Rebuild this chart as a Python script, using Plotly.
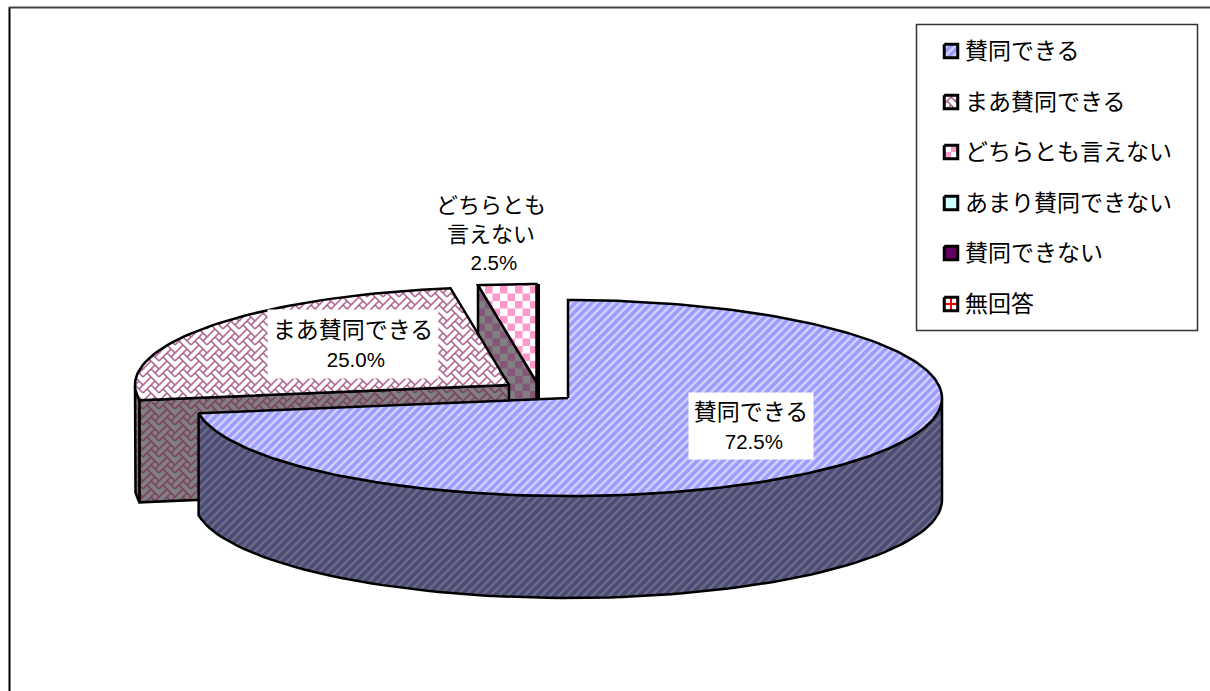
import math
import plotly.graph_objects as go

# Survey answers and their shares (percent)
categories = ["賛同できる", "まあ賛同できる", "どちらとも言えない", "あまり賛同できない", "賛同できない", "無回答"]
shares = [72.5, 25.0, 2.5, 0.0, 0.0, 0.0]

WIDTH, HEIGHT = 1210, 691
FONT = "Liberation Sans, Noto Sans CJK JP, sans-serif"
RX, RY, DEPTH = 374.0, 98.0, 102.0
# Pie apex of each exploded slice on the drawing surface
APEX = [(568.0, 398.0), (509.0, 385.0), (536.5, 382.0)]
BLACK = "#000000"

# 8x8 weave hatch, one hex byte per row
WEAVE_ROWS = [0x11, 0x2A, 0x44, 0xA2, 0x11, 0x28, 0x44, 0x8A]

fig = go.Figure()


def point(apex, theta, drop=0.0):
    t = math.radians(theta)
    return (apex[0] + RX * math.sin(t), apex[1] - RY * math.cos(t) + drop)


def arc(apex, a, b, drop=0.0, n=90):
    return [point(apex, a + (b - a) * i / n, drop) for i in range(n + 1)]


def add_poly(pts, bg=None, pattern=None, line=True, lw=2.5):
    xs = [p[0] for p in pts] + [pts[0][0]]
    ys = [p[1] for p in pts] + [pts[0][1]]
    kw = {}
    if bg is not None:
        kw["fill"] = "toself"
        kw["fillcolor"] = bg
    if pattern is not None:
        kw["fillpattern"] = pattern
    fig.add_trace(go.Scatter(
        x=xs, y=ys, mode="lines" if line else "none",
        line=dict(color=BLACK, width=lw), hoverinfo="skip", **kw))


def orientation(clip):
    area = sum(clip[i][0] * clip[(i + 1) % len(clip)][1] - clip[(i + 1) % len(clip)][0] * clip[i][1]
               for i in range(len(clip)))
    return 1.0 if area > 0 else -1.0


def clip_convex(poly, clip):
    # Sutherland-Hodgman against a convex polygon
    sign = orientation(clip)
    out = poly
    for i in range(len(clip)):
        ax, ay = clip[i]
        bx, by = clip[(i + 1) % len(clip)]
        if not out:
            return []
        src, out = out, []
        side = [sign * ((bx - ax) * (p[1] - ay) - (by - ay) * (p[0] - ax)) for p in src]
        for j, p in enumerate(src):
            q = src[(j + 1) % len(src)]
            sp, sq = side[j], side[(j + 1) % len(src)]
            if sp >= 0:
                out.append(p)
            if (sp >= 0) != (sq >= 0):
                t = sp / (sp - sq)
                out.append((p[0] + (q[0] - p[0]) * t, p[1] + (q[1] - p[1]) * t))
    return out


def clip_segment(p, q, clip):
    # Parametric clip of one segment against a convex polygon
    sign = orientation(clip)
    t0, t1 = 0.0, 1.0
    dx, dy = q[0] - p[0], q[1] - p[1]
    for i in range(len(clip)):
        ax, ay = clip[i]
        bx, by = clip[(i + 1) % len(clip)]
        sp = sign * ((bx - ax) * (p[1] - ay) - (by - ay) * (p[0] - ax))
        d = sign * ((bx - ax) * dy - (by - ay) * dx)
        if abs(d) < 1e-12:
            if sp < 0:
                return None
            continue
        t = -sp / d
        if d > 0:
            t0 = max(t0, t)
        else:
            t1 = min(t1, t)
        if t0 >= t1:
            return None
    return (p[0] + dx * t0, p[1] + dy * t0), (p[0] + dx * t1, p[1] + dy * t1)


def add_cells(cells, clip, color):
    xs, ys = [], []
    for x0, y0, w, h in cells:
        piece = clip_convex([(x0, y0), (x0 + w, y0), (x0 + w, y0 + h), (x0, y0 + h)], clip)
        if piece:
            xs += [p[0] for p in piece] + [piece[0][0], None]
            ys += [p[1] for p in piece] + [piece[0][1], None]
    fig.add_trace(go.Scatter(x=xs, y=ys, mode="none", fill="toself", fillcolor=color, hoverinfo="skip"))


def bit_set(r, c):
    return WEAVE_ROWS[r % 8] >> (7 - c % 8) & 1


def add_weave(clip, color, px=2.0, width=1.7):
    # Joins diagonal neighbours of the hatch bitmap into continuous strokes
    x_lo, x_hi = min(p[0] for p in clip), max(p[0] for p in clip)
    y_lo, y_hi = min(p[1] for p in clip), max(p[1] for p in clip)
    xs, ys = [], []
    for r in range(int(y_lo // px) - 1, int(y_hi // px) + 2):
        for c in range(int(x_lo // px) - 1, int(x_hi // px) + 2):
            if not bit_set(r, c):
                continue
            start = ((c + 0.5) * px, (r + 0.5) * px)
            for dr in (1, -1):
                if bit_set(r + dr, c + 1):
                    end = ((c + 1.5) * px, (r + dr + 0.5) * px)
                    seg = clip_segment(start, end, clip)
                    if seg:
                        xs += [seg[0][0], seg[1][0], None]
                        ys += [seg[0][1], seg[1][1], None]
    fig.add_trace(go.Scatter(x=xs, y=ys, mode="lines", line=dict(color=color, width=width), hoverinfo="skip"))


def check_cells(clip, size, ox, oy):
    x_lo, x_hi = min(p[0] for p in clip), max(p[0] for p in clip)
    y_lo, y_hi = min(p[1] for p in clip), max(p[1] for p in clip)
    cells = []
    for r in range(math.floor((y_lo - oy) / size), math.ceil((y_hi - oy) / size) + 1):
        for c in range(math.floor((x_lo - ox) / size), math.ceil((x_hi - ox) / size) + 1):
            if (r + c) % 2 == 0:
                cells.append((ox + c * size, oy + r * size, size, size))
    return cells


def checkered(pts, bg, fg, size, ox, oy):
    add_poly(pts, bg=bg, line=False)
    add_cells(check_cells(pts, size, ox, oy), pts, fg)
    add_poly(pts)


def woven(pts, bg, fg):
    add_poly(pts, bg=bg, line=False)
    add_weave(pts, fg)
    add_poly(pts)


# Slice angles, clockwise from twelve o'clock
bounds = [0.0]
for share in shares:
    bounds.append(bounds[-1] + share * 3.6)
start1, end1 = bounds[0], bounds[1]
start2, end2 = bounds[1], bounds[2]
start3, end3 = bounds[2], bounds[3]

STRIPE_TOP = dict(shape="/", size=6, solidity=0.38, bgcolor="#9C9CFF", fgcolor="#D6D6FF", fillmode="replace")
STRIPE_WALL = dict(shape="/", size=6, solidity=0.38, bgcolor="#4A4A75", fgcolor="#6E6E8A", fillmode="replace")
WEAVE_TOP = "#B0628E"
WEAVE_WALL = "#7D3E62"
PINK = "#FF99CC"

# Third slice, furthest back
a3 = APEX[2]
edge3 = point(a3, start3)
wall3 = [edge3, a3, (a3[0], a3[1] + DEPTH), (edge3[0], edge3[1] + DEPTH)]
checkered(wall3, "#808080", "#85557A", 7.5, 485.0, 286.0)
fig.add_trace(go.Scatter(x=[a3[0] + 1.5, a3[0] + 1.5], y=[point(a3, end3)[1], a3[1] + DEPTH],
                         mode="lines", line=dict(color=BLACK, width=4), hoverinfo="skip"))
top3 = [a3] + arc(a3, start3, end3, n=12)
checkered(top3, "#FFFFFF", PINK, 7.5, 485.0, 286.0)

# Second slice
a2 = APEX[1]
side2 = arc(a2, start2, 270.0, n=12) + arc(a2, start2, 270.0, DEPTH, n=12)[::-1]
add_poly(side2, bg="#808080", pattern=dict(shape="x", size=6, solidity=0.3, bgcolor="#808080",
                                           fgcolor=WEAVE_WALL, fillmode="replace"))
edge2 = point(a2, start2)
wall2 = [edge2, a2, (a2[0], a2[1] + DEPTH), (edge2[0], edge2[1] + DEPTH)]
woven(wall2, "#808080", WEAVE_WALL)
top2 = [a2] + arc(a2, start2, end2, n=60)
woven(top2, "#FFFFFF", WEAVE_TOP)

# First slice, in front of the others
a1 = APEX[0]
wall1 = arc(a1, 90.0, end1) + arc(a1, 90.0, end1, DEPTH)[::-1]
add_poly(wall1, bg="#4A4A75", pattern=STRIPE_WALL)
top1 = [a1] + arc(a1, start1, end1, n=240)
add_poly(top1, bg="#9C9CFF", pattern=STRIPE_TOP)

# Legend swatches
SW_X, SW_SIZE = 951.0, 13.5
row_y = [51.0, 102.0, 152.0, 203.0, 253.0, 304.0]
SW_LW = 3.0


def swatch_box(cy):
    h = SW_SIZE / 2
    return [(SW_X - h, cy - h), (SW_X + h, cy - h), (SW_X + h, cy + h), (SW_X - h, cy + h)]


add_poly(swatch_box(row_y[0]), bg="#9C9CFF", pattern=STRIPE_TOP, lw=SW_LW)
box = swatch_box(row_y[1])
add_poly(box, bg="#FFFFFF", line=False)
add_weave(box, WEAVE_TOP)
add_poly(box, lw=SW_LW)
box = swatch_box(row_y[2])
add_poly(box, bg="#FFFFFF", line=False)
add_cells(check_cells(box, 7.0, SW_X - 7.0, row_y[2]), box, PINK)
add_poly(box, lw=SW_LW)
add_poly(swatch_box(row_y[3]), bg="#CCFFFF", lw=SW_LW)
add_poly(swatch_box(row_y[4]), bg="#660066", lw=SW_LW)
box = swatch_box(row_y[5])
add_poly(box, bg="#FFFFFF", line=False)
fig.add_trace(go.Scatter(
    x=[SW_X - 7, SW_X + 7, None, SW_X, SW_X], y=[row_y[5], row_y[5], None, row_y[5] - 7, row_y[5] + 7],
    mode="lines", line=dict(color="#FF0000", width=2), hoverinfo="skip"))
add_poly(box, lw=SW_LW)

# Legend captions
annotations = [dict(x=963, y=cy, text=name, xanchor="left", yanchor="middle", showarrow=False,
                    font=dict(family=FONT, size=23, color=BLACK))
               for name, cy in zip(categories, row_y)]


def value_label(head, share):
    return f'{head}<br><span style="font-size:20.5px">&nbsp;{share:.1f}%</span>'


# Slice labels with their value
annotations += [
    dict(x=751, y=426, text=value_label(categories[0], shares[0]), width=122, height=64,
         bgcolor="#FFFFFF", showarrow=False, align="center", valign="middle",
         font=dict(family=FONT, size=23, color=BLACK)),
    dict(x=353, y=344, text=value_label(categories[1], shares[1]), width=168, height=66,
         bgcolor="#FFFFFF", showarrow=False, align="center", valign="middle",
         font=dict(family=FONT, size=23, color=BLACK)),
    dict(x=491, y=233, text=value_label("どちらとも<br>言えない", shares[2]), showarrow=False,
         align="center", valign="middle", font=dict(family=FONT, size=22, color=BLACK)),
]

fig.update_layout(
    width=WIDTH, height=HEIGHT, autosize=False,
    margin=dict(l=0, r=0, t=0, b=0, pad=0),
    paper_bgcolor="#FFFFFF", plot_bgcolor="#FFFFFF",
    showlegend=False,
    xaxis=dict(range=[0, WIDTH], visible=False, fixedrange=True),
    yaxis=dict(range=[HEIGHT, 0], visible=False, fixedrange=True),
    annotations=annotations,
    shapes=[
        dict(type="rect", x0=916.5, y0=24.5, x1=1197.5, y1=330.5, line=dict(color="#333333", width=1.5), layer="below"),
        dict(type="line", x0=9.5, y0=7, x1=9.5, y1=HEIGHT, line=dict(color=BLACK, width=2)),
        dict(type="line", x0=9, y0=7.5, x1=WIDTH, y1=7.5, line=dict(color="#404040", width=2)),
    ],
)

fig.write_html("out.html")
